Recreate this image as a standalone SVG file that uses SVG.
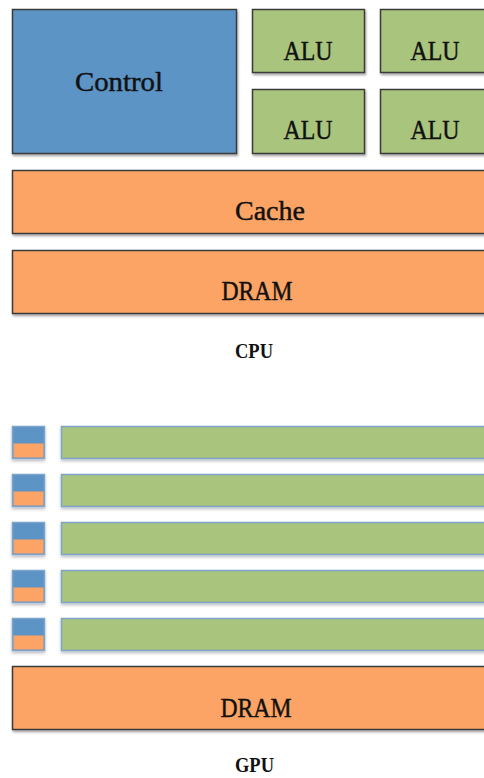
<svg xmlns="http://www.w3.org/2000/svg" width="484" height="778" viewBox="0 0 484 778">
<defs>
<filter id="sh" x="-10%" y="-10%" width="120%" height="140%">
<feDropShadow dx="1" dy="2" stdDeviation="1.2" flood-color="#000" flood-opacity="0.35"/>
</filter>
<filter id="sh2" x="-10%" y="-10%" width="120%" height="160%">
<feDropShadow dx="0" dy="2" stdDeviation="1.5" flood-color="#000" flood-opacity="0.25"/>
</filter>
</defs>
<style>
.box{stroke:#3a3a3a;stroke-width:1.5;filter:url(#sh)}
.blue{fill:#5b94c5}
.green{fill:#a9c47b}
.orange{fill:#fba465}
.gbox{stroke:#7ea3cc;stroke-width:1.5;filter:url(#sh2)}
.lbl{font-family:"Liberation Serif","DejaVu Serif",serif;font-size:28px;fill:#111;stroke:#111;stroke-width:0.45;text-anchor:middle}
.cap{font-family:"Liberation Serif","DejaVu Serif",serif;font-size:20px;font-weight:bold;fill:#111;text-anchor:middle}
</style>
<g id="control"><rect class="box blue" x="12.5" y="9.5" width="224" height="144"/><text class="lbl" x="119" y="91" textLength="88" lengthAdjust="spacingAndGlyphs">Control</text></g>
<g id="alu1"><rect class="box green" x="252.5" y="9.5" width="112" height="63"/><text class="lbl" x="308" y="60" textLength="49" lengthAdjust="spacingAndGlyphs">ALU</text></g>
<g id="alu2"><rect class="box green" x="380.5" y="9.5" width="112" height="63"/><text class="lbl" x="435" y="60" textLength="49" lengthAdjust="spacingAndGlyphs">ALU</text></g>
<g id="alu3"><rect class="box green" x="252.5" y="89.5" width="112" height="64"/><text class="lbl" x="308" y="139" textLength="49" lengthAdjust="spacingAndGlyphs">ALU</text></g>
<g id="alu4"><rect class="box green" x="380.5" y="89.5" width="112" height="64"/><text class="lbl" x="435" y="139" textLength="49" lengthAdjust="spacingAndGlyphs">ALU</text></g>
<g id="cache"><rect class="box orange" x="12.5" y="170.5" width="480" height="63"/><text class="lbl" x="270" y="220" textLength="70" lengthAdjust="spacingAndGlyphs">Cache</text></g>
<g id="cpu-dram"><rect class="box orange" x="12.5" y="250.5" width="480" height="63"/><text class="lbl" x="257" y="300" textLength="71" lengthAdjust="spacingAndGlyphs">DRAM</text></g>
<g id="cpu-label"><text class="cap" x="254" y="358" textLength="38" lengthAdjust="spacingAndGlyphs">CPU</text></g>
<g id="gpu-row1"><rect class="gbox blue" x="12.5" y="426.5" width="32" height="32"/><rect class="orange" x="13.5" y="443.5" width="30" height="14"/><rect class="gbox green" x="61.5" y="426.5" width="430" height="32"/></g>
<g id="gpu-row2"><rect class="gbox blue" x="12.5" y="474.5" width="32" height="32"/><rect class="orange" x="13.5" y="491.5" width="30" height="14"/><rect class="gbox green" x="61.5" y="474.5" width="430" height="32"/></g>
<g id="gpu-row3"><rect class="gbox blue" x="12.5" y="522.5" width="32" height="32"/><rect class="orange" x="13.5" y="539.5" width="30" height="14"/><rect class="gbox green" x="61.5" y="522.5" width="430" height="32"/></g>
<g id="gpu-row4"><rect class="gbox blue" x="12.5" y="570.5" width="32" height="32"/><rect class="orange" x="13.5" y="587.5" width="30" height="14"/><rect class="gbox green" x="61.5" y="570.5" width="430" height="32"/></g>
<g id="gpu-row5"><rect class="gbox blue" x="12.5" y="618.5" width="32" height="32"/><rect class="orange" x="13.5" y="635.5" width="30" height="14"/><rect class="gbox green" x="61.5" y="618.5" width="430" height="32"/></g>
<g id="gpu-dram"><rect class="box orange" x="12.5" y="666.5" width="480" height="63"/><text class="lbl" x="256" y="717" textLength="71" lengthAdjust="spacingAndGlyphs">DRAM</text></g>
<g id="gpu-label"><text class="cap" x="254.5" y="772" textLength="39" lengthAdjust="spacingAndGlyphs">GPU</text></g>
<g id="connectors"></g>
</svg>
